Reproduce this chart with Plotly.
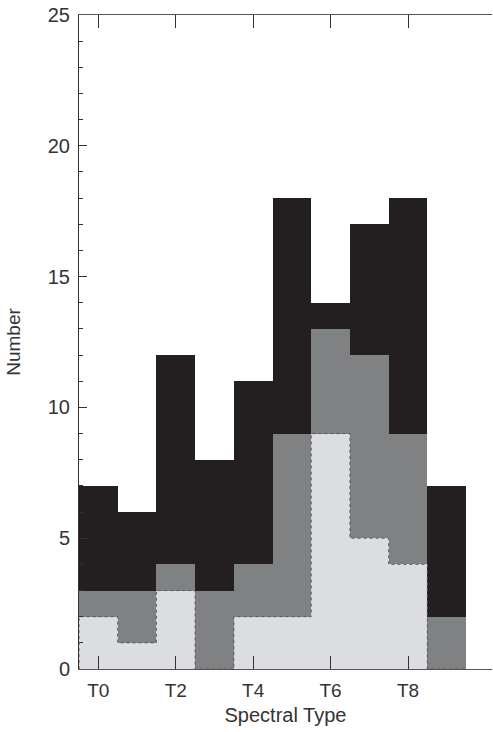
import plotly.graph_objects as go

spectral_types = [0, 1, 2, 3, 4, 5, 6, 7, 8, 9]
tick_vals = [0, 2, 4, 6, 8]
tick_labels = ["T0", "T2", "T4", "T6", "T8"]
# cumulative histograms
total_counts = [7, 6, 12, 8, 11, 18, 14, 17, 18, 7]
mid_counts = [3, 3, 4, 3, 4, 9, 13, 12, 9, 2]
light_counts = [2, 1, 3, 0, 2, 2, 9, 5, 4, 0]

layer_light = light_counts
layer_mid = [m - l for m, l in zip(mid_counts, light_counts)]
layer_dark = [t - m for t, m in zip(total_counts, mid_counts)]

fig = go.Figure()
fig.add_trace(go.Bar(x=spectral_types, y=layer_light, width=1,
                     marker=dict(color="#dcdde0", line=dict(width=0))))
fig.add_trace(go.Bar(x=spectral_types, y=layer_mid, width=1,
                     marker=dict(color="#808183", line=dict(width=0))))
fig.add_trace(go.Bar(x=spectral_types, y=layer_dark, width=1,
                     marker=dict(color="#231f20", line=dict(width=0))))

# dotted step outline of the light histogram
step_x = []
step_y = []
for s, v in zip(spectral_types, light_counts):
    step_x += [s - 0.5, s + 0.5]
    step_y += [v, v]
step_x = [step_x[0]] + step_x + [step_x[-1]]
step_y = [0] + step_y + [0]
fig.add_trace(go.Scatter(x=step_x, y=step_y, mode="lines", hoverinfo="skip",
                         line=dict(color="#5a5a5a", width=1, dash="dot", shape="linear")))

font = dict(family="Liberation Sans, Arial, sans-serif", color="#333333")
fig.update_layout(
    width=493, height=732,
    margin=dict(l=79, r=1, t=15, b=63, autoexpand=False),
    barmode="stack", bargap=0,
    showlegend=False,
    plot_bgcolor="white", paper_bgcolor="white",
    font=font,
    xaxis=dict(range=[-0.5, 10.17], tickvals=tick_vals, ticktext=tick_labels,
               ticks="inside", ticklen=13, tickcolor="#333333", tickwidth=1,
               showline=True, linecolor="#555555", linewidth=1, mirror="ticks",
               showgrid=False, zeroline=False, automargin=False,
               tickfont=dict(size=19), ticklabelstandoff=4,
               title=dict(text="Spectral Type", font=dict(size=20), standoff=8)),
    yaxis=dict(range=[0, 25], tickvals=[0, 5, 10, 15, 20, 25],
               ticks="inside", ticklen=8, tickcolor="#333333", tickwidth=1,
               showline=True, linecolor="#333333", linewidth=1,
               showgrid=False, zeroline=False, automargin=False,
               tickfont=dict(size=20), ticklabelstandoff=4,
               minor=dict(tickvals=[i for i in range(26) if i % 5 != 0],
                          ticks="inside", ticklen=4, tickcolor="#333333"),
               title=dict(text="Number", font=dict(size=19), standoff=22)),
)

fig.write_html("out.html", config={"displayModeBar": False},
               post_script="document.body.style.margin='0';document.body.style.overflow='hidden';")
